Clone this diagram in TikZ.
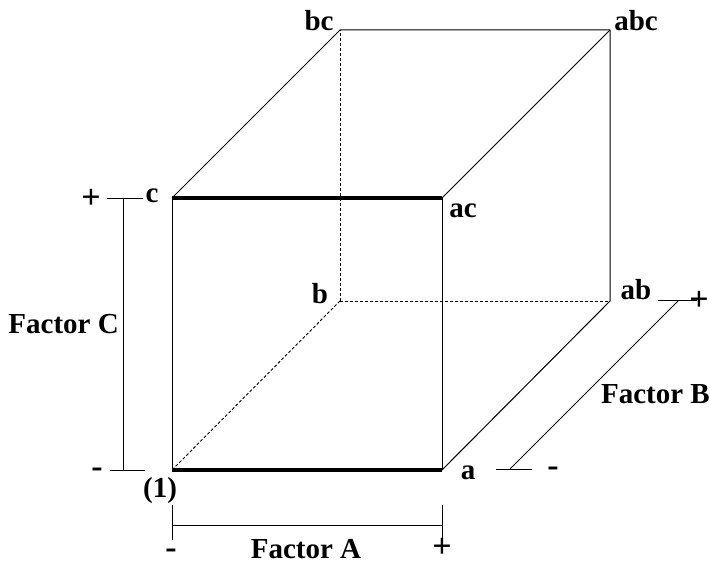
\documentclass[tikz,border=0pt]{standalone}
\usepackage{fontspec}
\setmainfont{Liberation Serif}
\usetikzlibrary{positioning}

\begin{document}
\begin{tikzpicture}[x=1pt, y=-1pt,
        lbl/.style={font=\fontsize{29}{32}\selectfont\bfseries, inner sep=0pt, text depth=0pt},
        sign/.style={font=\fontsize{34}{36}\selectfont\bfseries, inner sep=0pt, text height=14pt, text depth=0pt},
        edge/.style={line width=1pt},
        hidden/.style={line width=0.9pt, dash pattern=on 3pt off 2pt},
        heavy/.style={line width=4pt}
    ]
        \useasboundingbox (0,0) rectangle (710,564);

        % Corners
        \coordinate (p1) at (172,470);
        \coordinate (pa) at (442,470);
        \coordinate (pc) at (172,198);
        \coordinate (pac) at (442,198);
        \coordinate (pb) at (340,301);
        \coordinate (pab) at (610,301);
        \coordinate (pbc) at (340,30);
        \coordinate (pabc) at (610,30);

        % Cube
        \draw[hidden] (pb) -- (p1);
        \draw[hidden] (pb) -- (pab);
        \draw[hidden] (pb) -- (pbc);
        \draw[edge] (p1) -- (pc);
        \draw[edge] (pa) -- (pac);
        \draw[edge] (pa) -- (pab) -- (pabc);
        \draw[edge] (pac) -- (pabc);
        \draw[edge] (pc) -- (pbc) -- (pabc);
        \draw[heavy] (p1) -- (pa);
        \draw[heavy] (pc) -- (pac);

        % Corner labels
        \node[lbl, anchor=base] (l1) at (160,497) {(1)};
        \node[lbl, anchor=base] (la) at (468,479) {a};
        \node[lbl, anchor=base] (lc) at (152,203) {c};
        \node[lbl, anchor=base] (lac) at (463,218) {ac};
        \node[lbl, anchor=base] (lb) at (320,304) {b};
        \node[lbl, anchor=base] (lab) at (636,300) {ab};
        \node[lbl, anchor=base] (lbc) at (319,31) {bc};
        \node[lbl, anchor=base] (labc) at (636,31) {abc};

        % Factor C
        \coordinate (ct) at (123,199);
        \coordinate (cb) at (123,470);
        \draw[edge] (ct) -- (cb);
        \draw[edge] (107,199) coordinate (ctl) -- (143,199) coordinate (ctr);
        \draw[edge] (110,470) coordinate (cbl) -- (145,470) coordinate (cbr);
        \node[sign, anchor=base] (cplus) at (91,209) {+};
        \node[sign, anchor=base] (cminus) at (97,477) {-};
        \node[lbl, anchor=base east] (fc) at (119,334) {Factor C};

        % Factor A
        \coordinate (al) at (172,525);
        \coordinate (ar) at (442,525);
        \draw[edge] (al) -- (ar);
        \draw[edge] (172,505) -- (172,540);
        \draw[edge] (442,505) -- (442,540);
        \node[sign, anchor=base] (aminus) at (171,558) {-};
        \node[sign, anchor=base] (aplus) at (442,557) {+};
        \node[lbl, anchor=base] (fa) at (306,558) {Factor A};

        % Factor B
        \coordinate (bl) at (510,469);
        \coordinate (br) at (678,301);
        \draw[edge] (bl) -- (br);
        \draw[edge] (496,469) -- (532,469);
        \draw[edge] (658,301) -- (697,301);
        \node[sign, anchor=base] (bminus) at (553,476) {-};
        \node[sign, anchor=base] (bplus) at (699,310) {+};
        \node[lbl, anchor=base east] (fb) at (710,403) {Factor B};
    \end{tikzpicture}
\end{document}
